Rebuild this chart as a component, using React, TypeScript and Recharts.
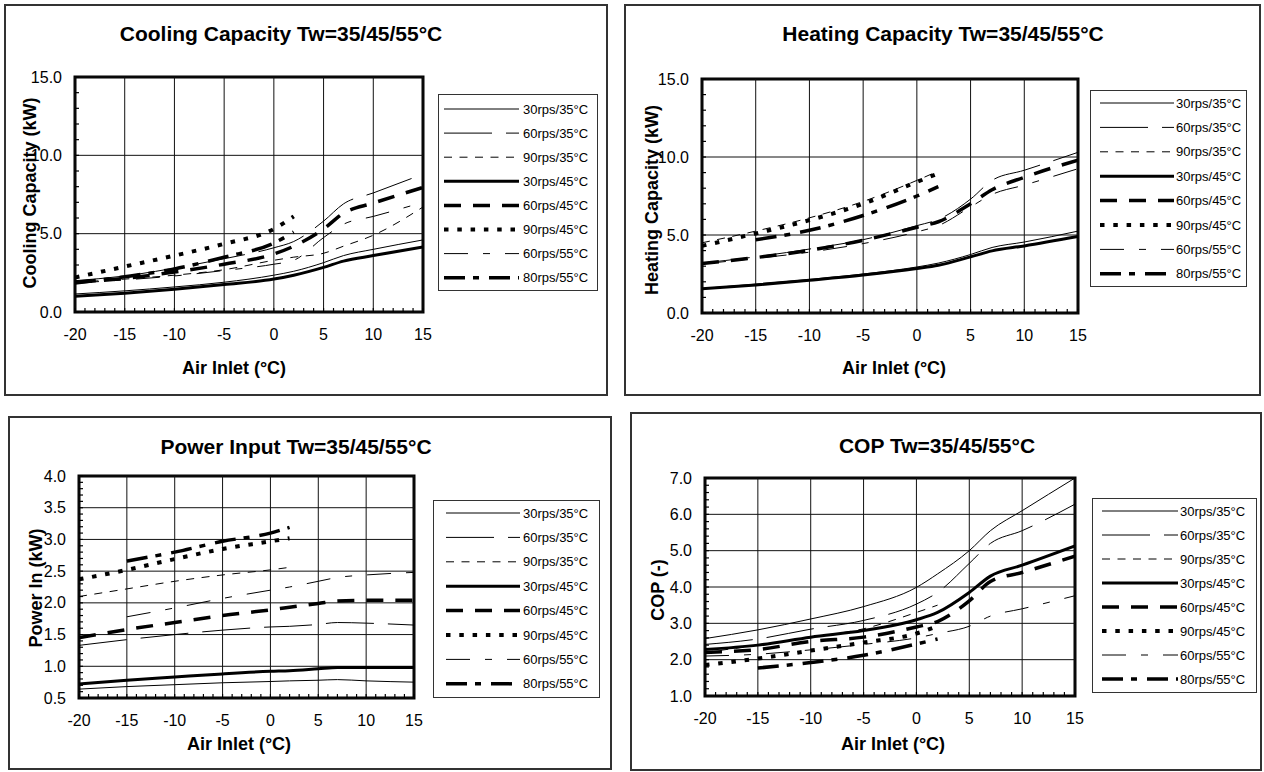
import React from 'react';
import { LineChart, Line, XAxis, YAxis, ReferenceLine, ReferenceArea } from 'recharts';

const FONT = '"Liberation Sans", Arial, Helvetica, sans-serif';

// air inlet temperature (°C) where every curve is read
const airInlet = [-20, -15, -10, -5, 0, 2, 5, 7, 10, 15];

const seriesLabels = [
  '30rps/35°C',
  '60rps/35°C',
  '90rps/35°C',
  '30rps/45°C',
  '60rps/45°C',
  '90rps/45°C',
  '60rps/55°C',
  '80rps/55°C',
];

const xTickLabels = [-20, -15, -10, -5, 0, 5, 10, 15];
const xMinorTicks = [
  -20, -19, -18, -17, -16, -15, -14, -13, -12, -11, -10, -9, -8, -7, -6, -5, -4, -3, -2, -1, 0,
  1, 2, 3, 4, 5, 6, 7, 8, 9, 10, 11, 12, 13, 14, 15,
];

// cooling capacity (kW)
const cooling30rps35 = [1.15, 1.35, 1.6, 1.9, 2.35, 2.6, 3.15, 3.6, 4.0, 4.6];
const cooling60rps35 = [2.0, 2.3, 2.8, 3.4, 4.1, 4.5, 5.8, 6.9, 7.6, 8.8];
const cooling90rps35 = [1.9, 2.1, 2.35, 2.7, 3.3, 3.5, 3.75, 4.2, 4.9, 6.7];
const cooling30rps45 = [1.0, 1.2, 1.45, 1.75, 2.1, 2.35, 2.85, 3.25, 3.6, 4.15];
const cooling60rps45 = [1.9, 2.15, 2.55, 3.05, 3.7, 4.2, 5.3, 6.3, 6.95, 7.95];
const cooling90rps45 = [2.2, 2.9, 3.6, 4.35, 5.3, 6.1, null, null, null, null];
const cooling60rps55 = [1.85, 2.05, 2.3, 2.65, 3.05, 3.3, 4.75, 5.6, 6.1, 7.0];
const cooling80rps55 = [1.85, 2.25, 2.75, 3.5, 4.4, 5.1, null, null, null, null];

// heating capacity (kW)
const heating30rps35 = [1.57, 1.85, 2.15, 2.5, 2.95, 3.2, 3.75, 4.2, 4.55, 5.25];
const heating60rps35 = [3.2, 3.6, 4.1, 4.7, 5.6, 6.0, 7.3, 8.5, 9.15, 10.3];
const heating90rps35 = [4.5, 5.25, 6.1, 7.15, 8.5, 9.1, null, null, null, null];
const heating30rps45 = [1.55, 1.8, 2.1, 2.43, 2.85, 3.06, 3.6, 3.98, 4.3, 4.9];
const heating60rps45 = [3.17, 3.55, 4.02, 4.66, 5.5, 5.85, 7.0, 7.9, 8.7, 9.8];
const heating90rps45 = [4.3, 5.1, 5.95, 7.0, 8.4, 8.95, null, null, null, null];
const heating60rps55 = [3.15, 3.5, 3.9, 4.45, 5.2, 5.6, 6.8, 7.6, 8.2, 9.25];
const heating80rps55 = [null, 4.7, 5.3, 6.25, 7.5, 8.1, null, null, null, null];

// power input (kW)
const power30rps35 = [0.64, 0.68, 0.71, 0.74, 0.76, 0.77, 0.78, 0.79, 0.77, 0.75];
const power60rps35 = [1.33, 1.42, 1.5, 1.57, 1.62, 1.63, 1.66, 1.69, 1.68, 1.65];
const power90rps35 = [2.1, 2.22, 2.34, 2.44, 2.52, 2.56, null, null, null, null];
const power30rps45 = [0.72, 0.78, 0.83, 0.88, 0.92, 0.93, 0.96, 0.98, 0.98, 0.98];
const power60rps45 = [1.45, 1.58, 1.69, 1.8, 1.89, 1.93, 1.99, 2.03, 2.04, 2.04];
const power90rps45 = [2.37, 2.52, 2.69, 2.85, 2.97, 3.02, null, null, null, null];
const power60rps55 = [null, 1.78, 1.92, 2.07, 2.2, 2.25, 2.34, 2.4, 2.44, 2.48];
const power80rps55 = [null, 2.66, 2.8, 2.97, 3.1, 3.19, null, null, null, null];

// COP (-)
const cop30rps35 = [2.58, 2.82, 3.12, 3.46, 3.99, 4.36, 5.0, 5.55, 6.1, 7.0];
const cop60rps35 = [2.42, 2.57, 2.84, 3.08, 3.53, 3.85, 4.65, 5.2, 5.55, 6.28];
const cop90rps35 = [2.2, 2.4, 2.62, 2.85, 3.3, 3.5, null, null, null, null];
const cop30rps45 = [2.28, 2.4, 2.62, 2.8, 3.1, 3.3, 3.85, 4.3, 4.6, 5.13];
const cop60rps45 = [2.2, 2.28, 2.5, 2.62, 2.9, 3.05, 3.62, 4.15, 4.4, 4.85];
const cop90rps45 = [1.85, 2.03, 2.25, 2.47, 2.72, 2.92, null, null, null, null];
const cop60rps55 = [2.1, 2.15, 2.27, 2.42, 2.6, 2.72, 2.92, 3.2, 3.4, 3.76];
const cop80rps55 = [null, 1.77, 1.92, 2.12, 2.43, 2.57, null, null, null, null];

// y axis ticks
const capacityMajor = [0, 5, 10, 15];
const capacityMinor = [0, 1, 2, 3, 4, 5, 6, 7, 8, 9, 10, 11, 12, 13, 14, 15];
const powerMajor = [0.5, 1.0, 1.5, 2.0, 2.5, 3.0, 3.5, 4.0];
const powerMinor = [
  0.5, 0.6, 0.7, 0.8, 0.9, 1.0, 1.1, 1.2, 1.3, 1.4, 1.5, 1.6, 1.7, 1.8, 1.9, 2.0, 2.1, 2.2, 2.3,
  2.4, 2.5, 2.6, 2.7, 2.8, 2.9, 3.0, 3.1, 3.2, 3.3, 3.4, 3.5, 3.6, 3.7, 3.8, 3.9, 4.0,
];
const copMajor = [1, 2, 3, 4, 5, 6, 7];
const copMinor = [
  1, 1.2, 1.4, 1.6, 1.8, 2, 2.2, 2.4, 2.6, 2.8, 3, 3.2, 3.4, 3.6, 3.8, 4, 4.2, 4.4, 4.6, 4.8, 5,
  5.2, 5.4, 5.6, 5.8, 6, 6.2, 6.4, 6.6, 6.8, 7,
];

// line looks, same order as seriesLabels
const seriesStyles = [
  { width: 1, dash: undefined as string | undefined },
  { width: 1, dash: '48 14' },
  { width: 1, dash: '8 7.5' },
  { width: 3, dash: undefined },
  { width: 3.5, dash: '17 12' },
  { width: 4, dash: '4.5 8.8' },
  { width: 1, dash: '24 15 7 15' },
  { width: 3.5, dash: '21 8 6 10' },
];

const toRows = (cols: (number | null)[][]) =>
  airInlet.map((x, i) => {
    const row: Record<string, number | null> = { x };
    cols.forEach((c, k) => {
      row['s' + k] = c[i];
    });
    return row;
  });

const isMajor = (major: number[], v: number) => major.some((m) => Math.abs(m - v) < 1e-6);

type Box = { l: number; t: number; r: number; b: number };
type PanelSpec = {
  title: string;
  yLabel: string;
  box: Box;
  plot: Box;
  titlePos: [number, number];
  yLabelPos: [number, number];
  xLabelPos: [number, number];
  legend: Box & { first: number; step: number; x1: number; x2: number; tx: number };
  yDomain: [number, number];
  yMajor: number[];
  yMinor: number[];
  rows: Record<string, number | null>[];
};

const panels: PanelSpec[] = [
  {
    title: 'Cooling Capacity Tw=35/45/55°C',
    yLabel: 'Cooling Capacity (kW)',
    box: { l: 4, t: 4, r: 608, b: 396 },
    plot: { l: 75, t: 77, r: 423, b: 312 },
    titlePos: [281, 33],
    yLabelPos: [30, 193],
    xLabelPos: [234, 368],
    legend: { l: 438, t: 94, r: 598, b: 291, first: 15, step: 24.1, x1: 6, x2: 81, tx: 85 },
    yDomain: [0, 15],
    yMajor: capacityMajor,
    yMinor: capacityMinor,
    rows: toRows([
      cooling30rps35, cooling60rps35, cooling90rps35, cooling30rps45,
      cooling60rps45, cooling90rps45, cooling60rps55, cooling80rps55,
    ]),
  },
  {
    title: 'Heating Capacity Tw=35/45/55°C',
    yLabel: 'Heating Capacity (kW)',
    box: { l: 624, t: 4, r: 1261, b: 396 },
    plot: { l: 702, t: 79, r: 1078, b: 313 },
    titlePos: [943, 33],
    yLabelPos: [652, 200],
    xLabelPos: [894, 368],
    legend: { l: 1090, t: 90, r: 1247, b: 287, first: 13, step: 24.4, x1: 10, x2: 84, tx: 86 },
    yDomain: [0, 15],
    yMajor: capacityMajor,
    yMinor: capacityMinor,
    rows: toRows([
      heating30rps35, heating60rps35, heating90rps35, heating30rps45,
      heating60rps45, heating90rps45, heating60rps55, heating80rps55,
    ]),
  },
  {
    title: 'Power Input Tw=35/45/55°C',
    yLabel: 'Power In (kW)',
    box: { l: 8, t: 416, r: 612, b: 770 },
    plot: { l: 79, t: 476, r: 414, b: 698 },
    titlePos: [296, 446],
    yLabelPos: [36, 588],
    xLabelPos: [239, 744],
    legend: { l: 433, t: 500, r: 600, b: 698, first: 13, step: 24.4, x1: 13, x2: 87, tx: 90 },
    yDomain: [0.5, 4],
    yMajor: powerMajor,
    yMinor: powerMinor,
    rows: toRows([
      power30rps35, power60rps35, power90rps35, power30rps45,
      power60rps45, power90rps45, power60rps55, power80rps55,
    ]),
  },
  {
    title: 'COP Tw=35/45/55°C',
    yLabel: 'COP (-)',
    box: { l: 630, t: 412, r: 1262, b: 771 },
    plot: { l: 705, t: 478, r: 1075, b: 696 },
    titlePos: [937, 445],
    yLabelPos: [658, 590],
    xLabelPos: [893, 744],
    legend: { l: 1092, t: 498, r: 1257, b: 693, first: 13, step: 24, x1: 10, x2: 86, tx: 88 },
    yDomain: [1, 7],
    yMajor: copMajor,
    yMinor: copMinor,
    rows: toRows([
      cop30rps35, cop60rps35, cop90rps35, cop30rps45,
      cop60rps45, cop90rps45, cop60rps55, cop80rps55,
    ]),
  },
];

const TICK = 4;

function Legend({ lg }: { lg: PanelSpec['legend'] }) {
  const w = lg.r - lg.l;
  const h = lg.b - lg.t;
  return (
    <svg style={{ position: 'absolute', left: lg.l, top: lg.t }} width={w} height={h}>
      <rect x={0.5} y={0.5} width={w - 1} height={h - 1} fill="#fff" stroke="#333" />
      {seriesLabels.map((name, i) => {
        const y = lg.first + i * lg.step;
        const st = seriesStyles[i];
        return (
          <g key={name}>
            <line x1={lg.x1} x2={lg.x2} y1={y} y2={y} stroke="#000" strokeWidth={st.width} strokeDasharray={st.dash} />
            <text x={lg.tx} y={y} dy="0.35em" fontSize={13} fontFamily={FONT} fill="#000">
              {name}
            </text>
          </g>
        );
      })}
    </svg>
  );
}

function Panel({ spec }: { spec: PanelSpec }) {
  const { box, plot } = spec;
  const pw = plot.r - plot.l;
  const ph = plot.b - plot.t;

  // small inward tick at every minor value, number only at the major ones
  const xTick = (props: any) => {
    const v = props.payload.value;
    const { x, y } = props;
    return (
      <g>
        <line x1={x} x2={x} y1={y} y2={y - TICK} stroke="#000" strokeWidth={1.2} />
        {isMajor(xTickLabels, v) && (
          <text x={x} y={y + 28} textAnchor="middle" fontSize={16} fontFamily={FONT} fill="#000">
            {v}
          </text>
        )}
      </g>
    );
  };
  const yTick = (props: any) => {
    const v = props.payload.value;
    const { x, y } = props;
    return (
      <g>
        <line x1={x} x2={x + TICK} y1={y} y2={y} stroke="#000" strokeWidth={1.2} />
        {isMajor(spec.yMajor, v) && (
          <text x={x - 13} y={y + 5.5} textAnchor="end" fontSize={16} fontFamily={FONT} fill="#000">
            {v.toFixed(1)}
          </text>
        )}
      </g>
    );
  };

  const textStyle: React.CSSProperties = {
    position: 'absolute',
    transform: 'translate(-50%, -50%)',
    whiteSpace: 'nowrap',
    fontFamily: FONT,
    fontWeight: 'bold',
    lineHeight: 1,
    color: '#000',
  };

  return (
    <>
      <div
        style={{
          position: 'absolute',
          left: box.l,
          top: box.t,
          width: box.r - box.l,
          height: box.b - box.t,
          border: '2px solid #333',
          boxSizing: 'border-box',
          background: '#fff',
        }}
      />
      <div style={{ ...textStyle, left: spec.titlePos[0], top: spec.titlePos[1], fontSize: 21 }}>{spec.title}</div>
      <div style={{ position: 'absolute', left: plot.l - 70, top: plot.t - 10 }}>
        <LineChart width={pw + 80} height={ph + 50} data={spec.rows} margin={{ top: 10, right: 10, bottom: 0, left: 0 }}>
          <XAxis
            dataKey="x"
            type="number"
            domain={[-20, 15]}
            ticks={xMinorTicks}
            interval={0}
            tickSize={0}
            tickMargin={0}
            height={40}
            axisLine={false}
            tickLine={false}
            tick={xTick}
            allowDataOverflow
          />
          <YAxis
            type="number"
            domain={spec.yDomain}
            ticks={spec.yMinor}
            interval={0}
            tickSize={0}
            tickMargin={0}
            width={70}
            axisLine={false}
            tickLine={false}
            tick={yTick}
            allowDataOverflow
          />
          {xTickLabels.map((v) => (
            <ReferenceLine key={'gx' + v} x={v} stroke="#111" strokeWidth={1} />
          ))}
          {spec.yMajor.map((v) => (
            <ReferenceLine key={'gy' + v} y={v} stroke="#111" strokeWidth={1} />
          ))}
          {seriesLabels.map((name, i) => (
            <Line
              key={name}
              dataKey={'s' + i}
              name={name}
              type="monotone"
              stroke="#000"
              strokeWidth={seriesStyles[i].width}
              strokeDasharray={seriesStyles[i].dash}
              dot={false}
              activeDot={false}
              connectNulls={false}
              isAnimationActive={false}
            />
          ))}
          <ReferenceArea
            x1={-20}
            x2={15}
            y1={spec.yDomain[0]}
            y2={spec.yDomain[1]}
            fill="none"
            stroke="#000"
            strokeWidth={3}
            ifOverflow="visible"
          />
        </LineChart>
      </div>
      <div style={{ ...textStyle, left: spec.xLabelPos[0], top: spec.xLabelPos[1], fontSize: 18 }}>Air Inlet (°C)</div>
      <div
        style={{
          ...textStyle,
          left: spec.yLabelPos[0],
          top: spec.yLabelPos[1],
          fontSize: 18,
          transform: 'translate(-50%, -50%) rotate(-90deg)',
        }}
      >
        {spec.yLabel}
      </div>
      <Legend lg={spec.legend} />
    </>
  );
}

export default function App() {
  return (
    <div
      style={{
        position: 'absolute',
        left: 0,
        top: 0,
        width: 1264,
        height: 772,
        overflow: 'hidden',
        background: '#fff',
      }}
    >
      {panels.map((p) => (
        <Panel key={p.title} spec={p} />
      ))}
    </div>
  );
}
